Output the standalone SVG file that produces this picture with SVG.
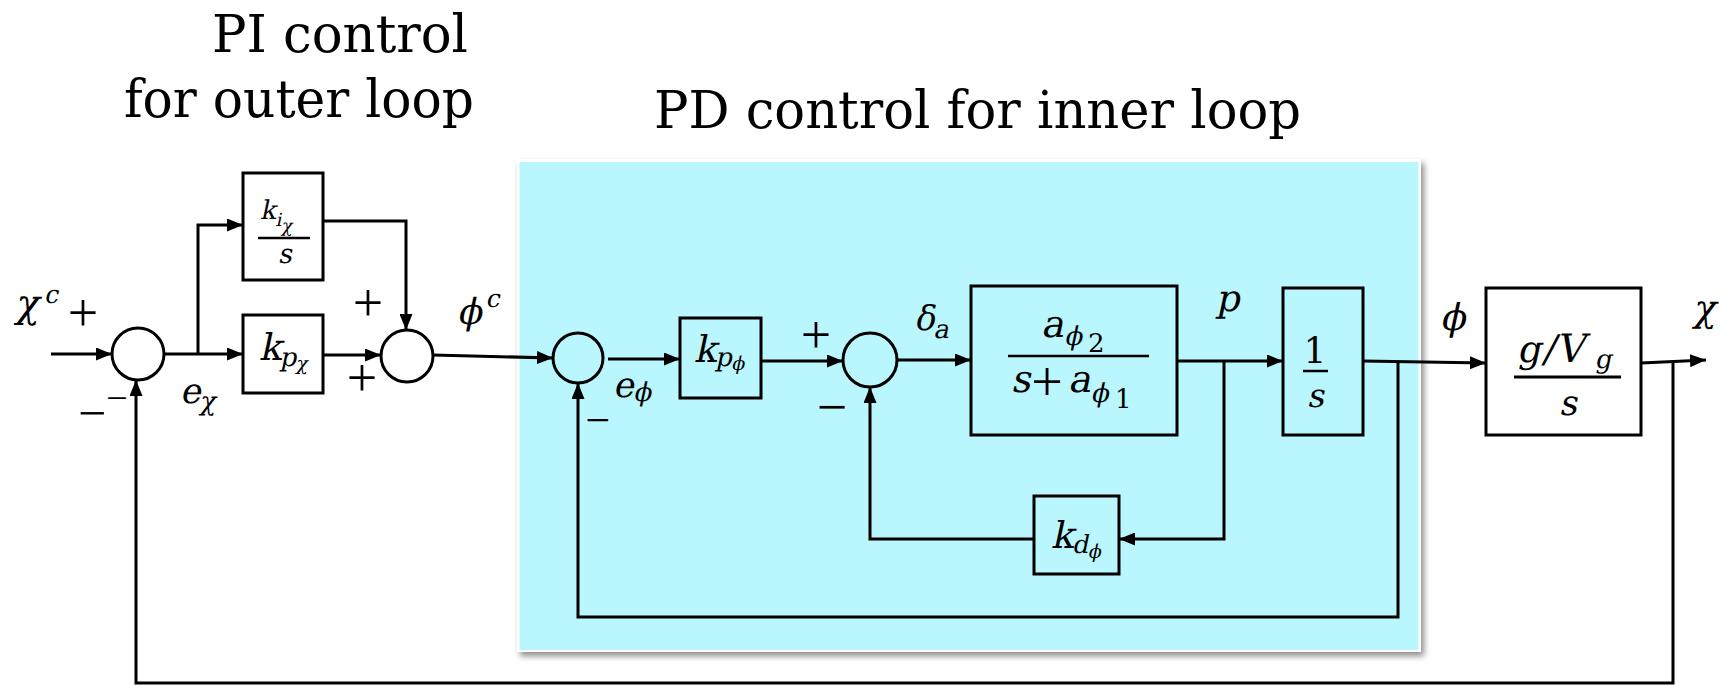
<svg xmlns="http://www.w3.org/2000/svg" width="1732" height="685" viewBox="0 0 1732 685">
<style>
.ln{fill:none;stroke:#000;stroke-width:3}
.ar{marker-end:url(#ah)}
.bx{fill:none;stroke:#000;stroke-width:3}
.fl{stroke:#000;stroke-width:2.5}
.t{font-family:"DejaVu Serif",serif;fill:#000}
.m{font-family:"DejaVu Serif",serif;font-style:normal;fill:#000}
.op{font-family:"Liberation Serif","DejaVu Serif",serif;fill:#000;text-anchor:middle}
</style>
<defs>
<marker id="ah" markerUnits="userSpaceOnUse" markerWidth="16" markerHeight="13" refX="16" refY="6.5" orient="auto">
<path d="M0,0 L16,6.5 L0,13 z" fill="#000"/>
</marker>
<filter id="sh" x="-5%" y="-5%" width="110%" height="110%">
<feGaussianBlur in="SourceAlpha" stdDeviation="3"/>
<feOffset dx="3" dy="4" result="b"/>
<feComponentTransfer><feFuncA type="linear" slope="0.45"/></feComponentTransfer>
<feMerge><feMergeNode/><feMergeNode in="SourceGraphic"/></feMerge>
</filter>
</defs>
<rect width="1732" height="685" fill="#fff"/>

<g id="panel">
<rect x="517" y="159" width="904" height="493" fill="#fff" filter="url(#sh)"/>
<rect x="519.5" y="162" width="899" height="488" fill="#baf6fd"/>
</g>

<g id="titles">
<text class="t" x="212" y="52" font-size="52" textLength="256" lengthAdjust="spacingAndGlyphs">PI control</text>
<text class="t" x="124" y="117" font-size="52" textLength="350" lengthAdjust="spacingAndGlyphs">for outer loop</text>
<text class="t" x="654" y="128" font-size="52" textLength="647" lengthAdjust="spacingAndGlyphs">PD control for inner loop</text>
</g>

<g id="connectors">
<path class="ln ar" d="M51,354 H112"/>
<path class="ln ar" d="M164,354 H243"/>
<path class="ln ar" d="M198,354 V225 H243"/>
<path class="ln ar" d="M323,221 H406 V330"/>
<path class="ln ar" d="M323,355 H381"/>
<path class="ln ar" d="M433,355 L553,358"/>
<path class="ln ar" d="M608,359 H680"/>
<path class="ln ar" d="M761,361 H843"/>
<path class="ln ar" d="M897,360 H971"/>
<path class="ln ar" d="M1177,361 H1283"/>
<path class="ln ar" d="M1224,361 V539 H1119"/>
<path class="ln ar" d="M1034,539 H870 V387"/>
<path class="ln ar" d="M1363,361 L1486,363"/>
<path class="ln ar" d="M1398,361 V617 H578 V383"/>
<path class="ln ar" d="M1641,363 L1706,360"/>
<path class="ln ar" d="M1673,362 V683 H136 V380"/>
</g>

<g id="sum1"><circle cx="138" cy="354" r="26" class="bx"/></g>
<g id="sum2"><circle cx="407" cy="356" r="26" class="bx"/></g>
<g id="sum3"><circle cx="578" cy="358" r="25" class="bx"/></g>
<g id="sum4"><circle cx="870" cy="360" r="27" class="bx"/></g>

<g id="ki">
<rect x="243" y="173" width="80" height="107" class="bx"/>
<text class="m" transform="matrix(1 0 -0.2126 1 46.56 0)"><tspan x="260" y="219" font-size="26">k</tspan><tspan x="277" y="226" font-size="18">i</tspan><tspan x="284" y="232" font-size="18">χ</tspan></text>
<line x1="258" y1="238" x2="310" y2="238" class="fl"/>
<text class="m" transform="matrix(1 0 -0.2126 1 55.91 0)" x="278" y="263" font-size="27">s</text>
</g>

<g id="kp">
<rect x="243" y="315" width="80" height="78" class="bx"/>
<text class="m" transform="matrix(1 0 -0.2126 1 76.54 0)"><tspan x="259" y="360" font-size="37">k</tspan><tspan x="281" y="366" font-size="26">p</tspan><tspan x="298" y="370" font-size="19">χ</tspan></text>
</g>

<g id="kpphi">
<rect x="680" y="318" width="81" height="80" class="bx"/>
<text class="m" transform="matrix(1 0 -0.2126 1 76.96 0)"><tspan x="694" y="362" font-size="37">k</tspan><tspan x="716" y="366" font-size="26">p</tspan><tspan x="733" y="370" font-size="19">ϕ</tspan></text>
</g>

<g id="plant1">
<rect x="971" y="286" width="206" height="149" class="bx"/>
<text class="m" transform="matrix(1 0 -0.2126 1 71.65 0)"><tspan x="1041" y="337" font-size="38">a</tspan><tspan x="1066" y="345" font-size="26">ϕ</tspan></text>
<text class="m" x="1088" y="352" font-size="26">2</text>
<line x1="1008" y1="356" x2="1149" y2="356" class="fl"/>
<text class="m" transform="matrix(1 0 -0.2126 1 83.34 0)"><tspan x="1011" y="392" font-size="38">s</tspan><tspan x="1068" y="392" font-size="38">a</tspan><tspan x="1093" y="402" font-size="26">ϕ</tspan></text>
<text class="op" x="1047" y="401" font-size="56">+</text>
<text class="m" x="1115" y="408" font-size="26">1</text>
</g>

<g id="integ">
<rect x="1283" y="288" width="80" height="147" class="bx"/>
<text class="m" text-anchor="middle" x="1315" y="363" font-size="36">1</text>
<line x1="1303" y1="371" x2="1328" y2="371" class="fl"/>
<text class="m" transform="matrix(1 0 -0.2126 1 86.53 0)" x="1307" y="407" font-size="33">s</text>
</g>

<g id="kd">
<rect x="1034" y="496" width="85" height="78" class="bx"/>
<text class="m" transform="matrix(1 0 -0.2126 1 116.5 0)"><tspan x="1051" y="548" font-size="37">k</tspan><tspan x="1073" y="553" font-size="25">d</tspan><tspan x="1090" y="558" font-size="19">ϕ</tspan></text>
</g>

<g id="plant2">
<rect x="1486" y="288" width="155" height="147" class="bx"/>
<text class="m" transform="matrix(1 0 -0.2126 1 76.96 0)"><tspan x="1517" y="362" font-size="37">g</tspan><tspan x="1542" y="362" font-size="38">/</tspan><tspan x="1556" y="362" font-size="39">V</tspan><tspan x="1596" y="368" font-size="26">g</tspan></text>
<line x1="1514" y1="377" x2="1621" y2="377" class="ln"/>
<text class="m" transform="matrix(1 0 -0.2126 1 88.23 0)" x="1559" y="415" font-size="35">s</text>
</g>

<g id="labels">
<text class="m" transform="matrix(1 0 -0.2126 1 67.39 0)"><tspan x="15" y="317" font-size="39">χ</tspan><tspan x="41" y="303" font-size="25">c</tspan></text>
<text class="op" x="83" y="331" font-size="54">+</text>
<text class="op" x="92" y="430" font-size="50">−</text>
<text class="op" x="117" y="411" font-size="38">−</text>
<text class="m" transform="matrix(1 0 -0.2126 1 85.68 0)"><tspan x="180" y="403" font-size="35">e</tspan><tspan x="201" y="410" font-size="26">χ</tspan></text>
<text class="op" x="368" y="321" font-size="54">+</text>
<text class="op" x="362" y="396" font-size="54">+</text>
<text class="m" transform="matrix(1 0 -0.2126 1 68.88 0)"><tspan x="457" y="324" font-size="36">ϕ</tspan><tspan x="482" y="307" font-size="25">c</tspan></text>
<text class="m" transform="matrix(1 0 -0.2126 1 84.4 0)"><tspan x="613" y="397" font-size="35">e</tspan><tspan x="634" y="401" font-size="26">ϕ</tspan></text>
<text class="op" x="598" y="435" font-size="44">−</text>
<text class="op" x="816" y="353" font-size="54">+</text>
<text class="op" x="832" y="425" font-size="54">−</text>
<text class="m" transform="matrix(1 0 -0.2126 1 70.16 0)"><tspan x="914" y="330" font-size="34">δ</tspan><tspan x="935" y="338" font-size="26">a</tspan></text>
<text class="m" transform="matrix(1 0 -0.2126 1 66.12 0)" x="1216" y="311" font-size="37">p</text>
<text class="m" transform="matrix(1 0 -0.2126 1 70.16 0)" x="1440" y="330" font-size="37">ϕ</text>
<text class="m" transform="matrix(1 0 -0.2126 1 68.24 0)" x="1693" y="321" font-size="37">χ</text>
</g>
</svg>
